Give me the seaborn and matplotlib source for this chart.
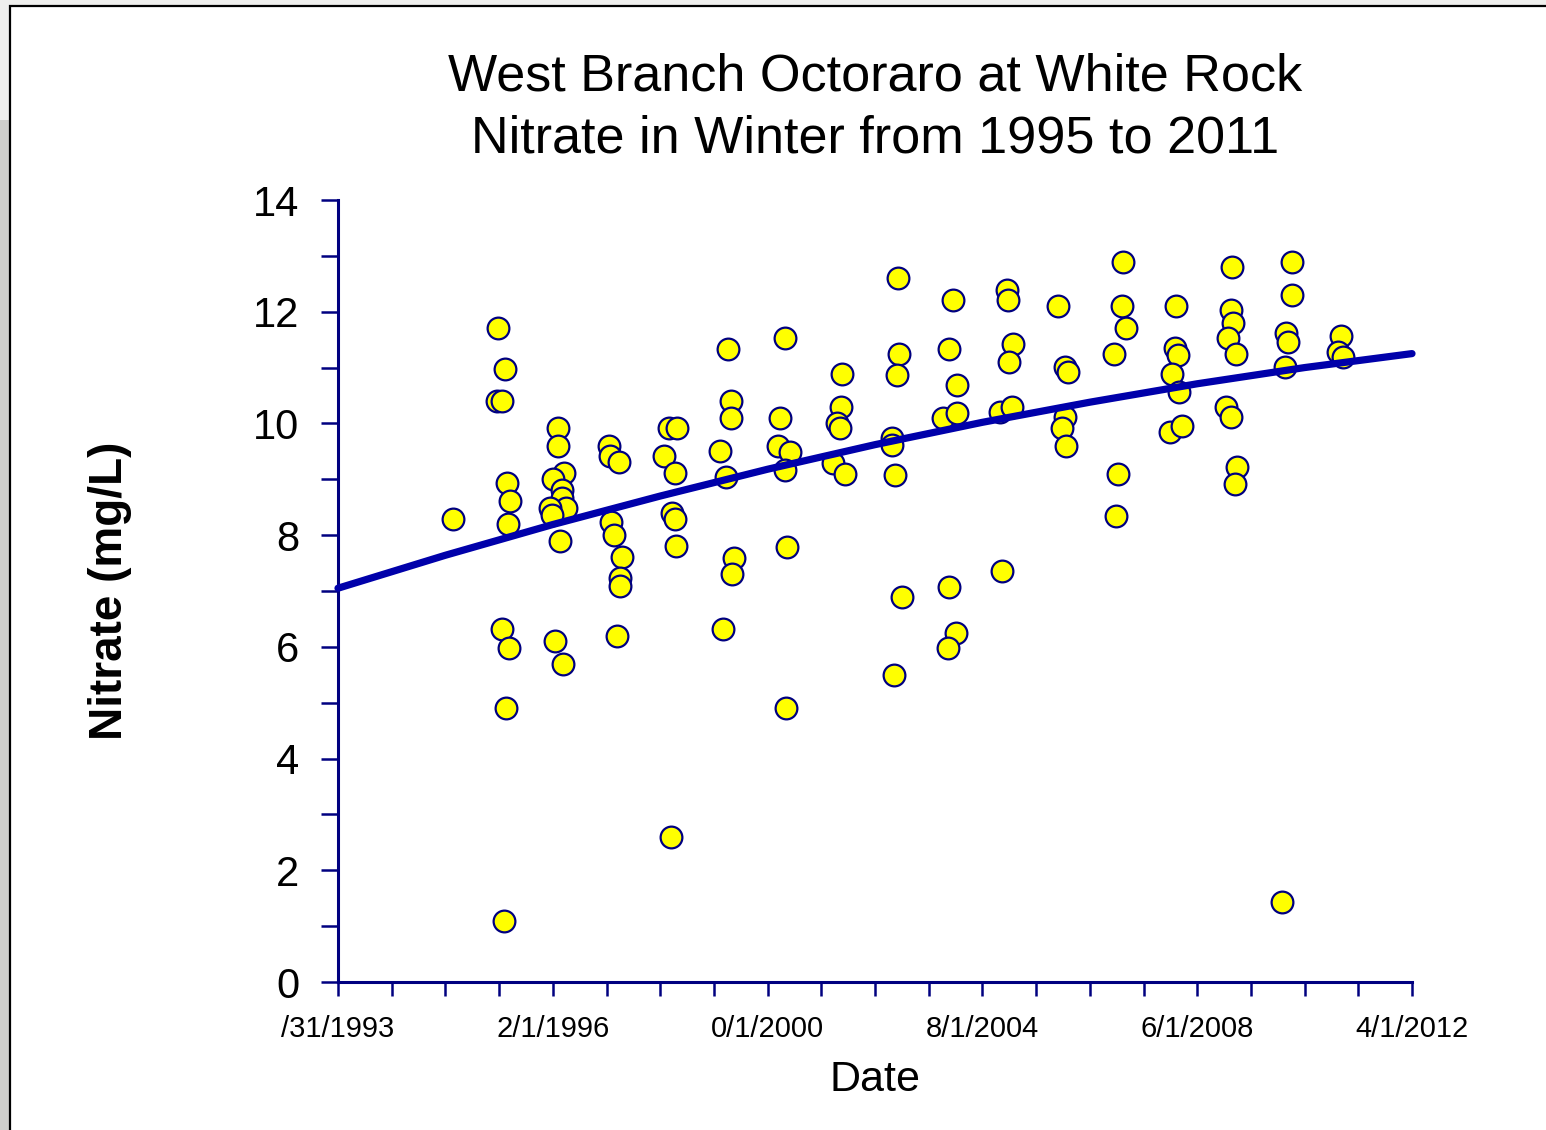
import matplotlib
matplotlib.use("Agg")
import matplotlib.pyplot as plt
import matplotlib.patches as mpatches
import seaborn as sns
import pandas as pd
import numpy as np

# ---- data (x in axis tick units, 0 = first tick, 20 = last tick) ----
x_pos = [
    2.14,
    2.98, 3.11, 2.96, 3.05, 3.15, 3.20, 3.17, 3.05, 3.18, 3.13, 3.09,
    4.10, 4.10, 4.21, 4.00, 4.17, 4.17, 4.25, 3.95, 3.99, 4.13, 4.04, 4.19,
    5.05, 5.07, 5.23, 5.08, 5.14, 5.29, 5.25, 5.25, 5.20,
    6.20, 6.07, 6.16, 6.31, 6.28, 6.22, 6.28, 6.29,
    7.11, 7.23, 7.26, 7.32, 7.32, 7.17, 7.37, 7.34,
    8.23, 8.32, 8.19, 8.42, 8.32, 8.36, 8.34,
    9.39, 9.37, 9.29, 9.35, 9.22, 9.44,
    10.43, 10.45, 10.41, 10.32, 10.32, 10.37, 10.50, 10.35,
    11.45, 11.38, 11.53, 11.27, 11.53, 11.38, 11.51, 11.36,
    12.46, 12.48, 12.57, 12.50, 12.33, 12.55, 12.36,
    13.41, 13.54, 13.59, 13.54, 13.48, 13.56,
    14.62, 14.60, 14.67, 14.45, 14.53, 14.49,
    15.61, 15.59, 15.64, 15.53, 15.66, 15.49, 15.72,
    16.65, 16.63, 16.67, 16.57, 16.72, 16.54, 16.63, 16.74, 16.70,
    17.58, 17.77, 17.77, 17.65, 17.69, 17.63,
    18.68, 18.62, 18.72,
]
nitrate = [
    8.29,
    11.71, 10.97, 10.40, 10.40, 8.93, 8.61, 8.20, 6.32, 5.98, 4.91, 1.09,
    9.92, 9.60, 9.11, 9.00, 8.81, 8.66, 8.49, 8.49, 8.36, 7.89, 6.10, 5.69,
    9.60, 9.42, 9.31, 8.23, 8.00, 7.61, 7.23, 7.09, 6.19,
    2.60, 9.42, 9.92, 9.92, 9.11, 8.40, 8.29, 7.81,
    9.51, 9.04, 11.33, 10.40, 10.10, 6.32, 7.59, 7.30,
    10.10, 11.53, 9.60, 9.49, 9.17, 7.79, 4.91,
    10.88, 10.29, 10.01, 9.92, 9.29, 9.09,
    12.60, 11.24, 10.87, 9.74, 9.61, 9.08, 6.89, 5.50,
    12.21, 11.33, 10.69, 10.10, 10.19, 7.07, 6.25, 5.98,
    12.39, 12.21, 11.42, 11.10, 10.20, 10.29, 7.36,
    12.10, 11.01, 10.92, 10.11, 9.92, 9.60,
    12.89, 12.10, 11.71, 11.24, 9.09, 8.34,
    12.10, 11.35, 11.22, 10.88, 10.56, 9.85, 9.95,
    12.80, 12.03, 11.80, 11.53, 11.24, 10.29, 10.11, 9.22, 8.92,
    1.43, 12.89, 12.30, 11.62, 11.46, 11.01,
    11.56, 11.28, 11.19,
]

# trend line
trend_x = [0, 2, 4, 6, 8, 10, 12, 14, 16, 18, 20]
trend_y = [7.05, 7.64, 8.19, 8.70, 9.18, 9.62, 10.02, 10.38, 10.71, 11.00, 11.25]

tick_positions = list(range(0, 21))
label_positions = [0, 4, 8, 12, 16, 20]
tick_labels = ["/31/1993", "2/1/1996", "0/1/2000", "8/1/2004", "6/1/2008", "4/1/2012"]
y_ticks_major = [0, 2, 4, 6, 8, 10, 12, 14]

title_text = "West Branch Octoraro at White Rock\nNitrate in Winter from 1995 to 2011"
xlabel_text = "Date"
ylabel_text = "Nitrate (mg/L)"

# ---- style ----
sns.set_theme(style="white")
plt.rcParams['font.family'] = ['Liberation Sans', 'DejaVu Sans']

NAVY = "#000080"
LINE = "#0000AA"

W, H = 1546, 1130
fig = plt.figure(figsize=(W / 100, H / 100), dpi=100, facecolor="#efefed")

# textured gray strip on left
strip = mpatches.Rectangle((0, 0), 9 / W, 1 - 120 / H, transform=fig.transFigure,
                           facecolor="#cfcfcc", edgecolor="none", zorder=-20)
fig.patches.append(strip)
# white chart area with black border
rect = mpatches.Rectangle((10 / W, -0.01), 1.0, 1 - 6 / H + 0.01,
                          transform=fig.transFigure, facecolor="white",
                          edgecolor="black", linewidth=1.6, zorder=-10)
fig.patches.append(rect)

left, right = 338 / W, 1412 / W
bottom, top = 1 - 982 / H, 1 - 200 / H
ax = fig.add_axes([left, bottom, right - left, top - bottom])
ax.set_facecolor("none")
ax.set_zorder(5)

df = pd.DataFrame({"x": x_pos, "nitrate": nitrate})
tr = pd.DataFrame({"x": trend_x, "y": trend_y})

sns.scatterplot(data=df, x="x", y="nitrate", ax=ax, s=245, color="#FFFF00",
                edgecolor=NAVY, linewidth=1.6, zorder=3, clip_on=False)
sns.lineplot(data=tr, x="x", y="y", ax=ax, color=LINE, linewidth=5.2,
             zorder=4, clip_on=False, sort=True)

ax.set_xlim(0, 20)
ax.set_ylim(0, 14)

for s in ["top", "right"]:
    ax.spines[s].set_visible(False)
for s in ["left", "bottom"]:
    ax.spines[s].set_color(NAVY)
    ax.spines[s].set_linewidth(2.2)

ax.set_xticks(tick_positions, minor=True)
ax.set_xticks(label_positions)
ax.set_xticklabels(tick_labels)
ax.set_yticks(list(range(0, 15)), minor=True)
ax.set_yticks(y_ticks_major)
ax.set_yticklabels([str(v) for v in y_ticks_major])

ax.tick_params(axis="x", which="both", direction="out", length=10, width=1.8,
               color=NAVY, bottom=True)
ax.tick_params(axis="x", which="major", labelsize=21, pad=14, labelcolor="black")
ax.tick_params(axis="y", which="both", direction="out", length=12, width=1.8,
               color=NAVY, left=True)
ax.tick_params(axis="y", which="major", labelsize=30, pad=16, labelcolor="black")

ax.set_xlabel(xlabel_text, fontsize=31, labelpad=12, color="black")
ax.set_ylabel(ylabel_text, fontsize=33, fontweight="bold", labelpad=87, color="black")
if ax.get_legend() is not None:
    ax.get_legend().remove()

fig.text(875 / W, 1 - 108 / H, title_text, ha="center", va="center",
         fontsize=37.5, linespacing=1.32, color="black")

fig.savefig("out.png", dpi=100, facecolor=fig.get_facecolor())
